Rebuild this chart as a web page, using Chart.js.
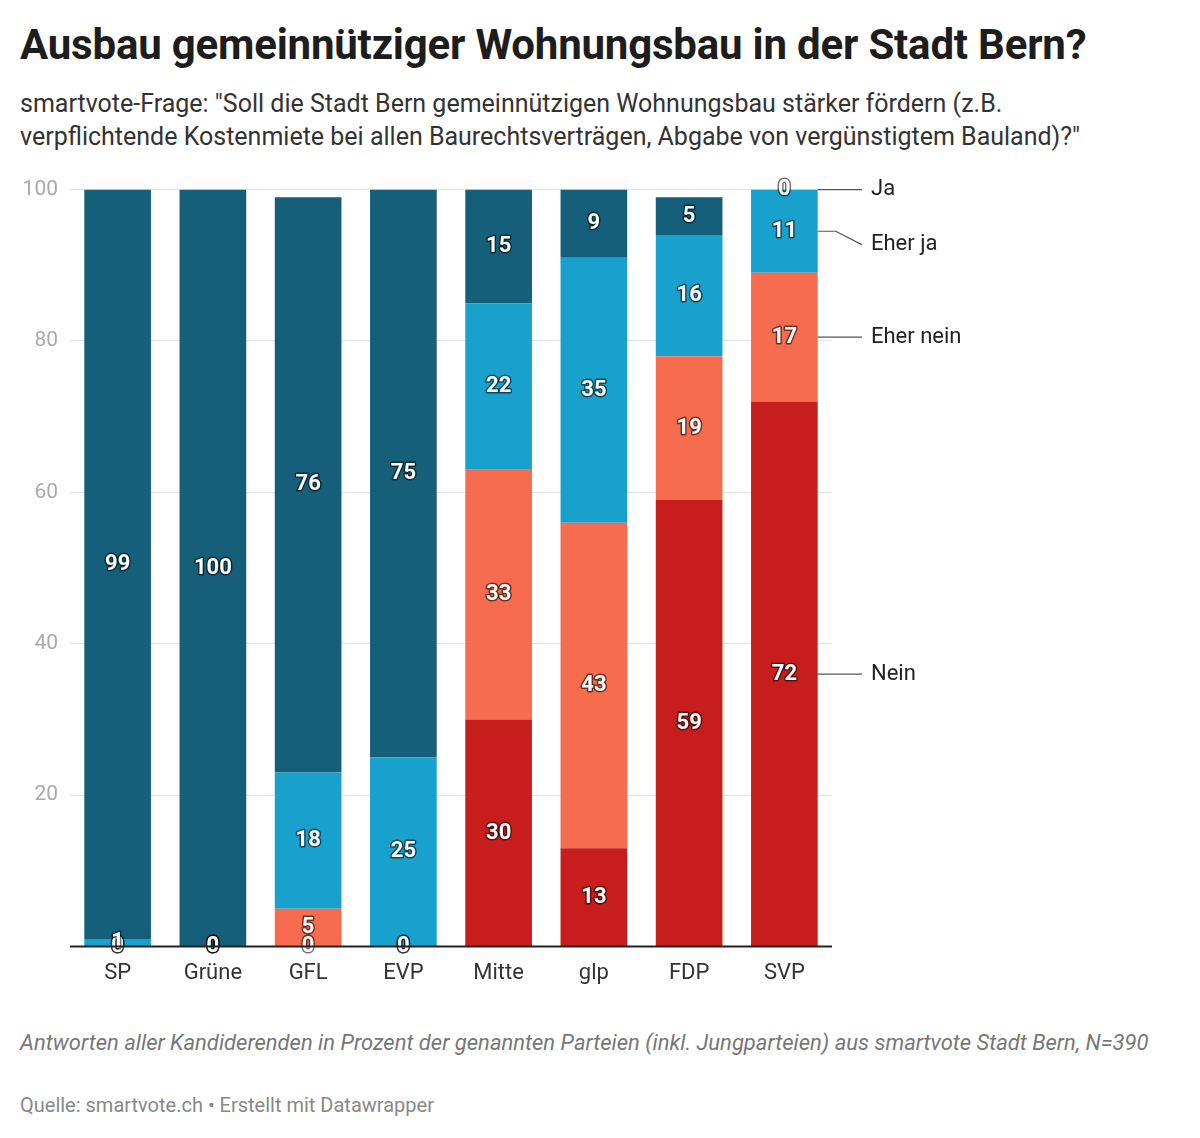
<!DOCTYPE html>
<html><head><meta charset="utf-8">
<script src="https://cdn.jsdelivr.net/npm/chart.js@4"></script>
<style>
body{margin:0;width:1200px;height:1138px;background:#fff;font-family:Roboto,sans-serif;position:relative;overflow:hidden}
#title{position:absolute;left:20px;top:20px;font-size:42px;font-weight:bold;color:#1d1d1d;letter-spacing:-0.2px}
#sub{position:absolute;left:20px;top:87px;font-size:25px;line-height:33px;color:#333;width:1140px}
#wrap{position:absolute;left:0;top:165px;width:1200px;height:830px}
#note{position:absolute;left:20px;top:1029px;font-size:22px;line-height:27px;color:#777;font-style:italic;width:1150px}
#src{position:absolute;left:20px;top:1093px;font-size:20px;color:#888}
</style></head><body>
<div id="title">Ausbau gemeinnütziger Wohnungsbau in der Stadt Bern?</div>
<div id="sub">smartvote-Frage: "Soll die Stadt Bern gemeinnützigen Wohnungsbau stärker fördern (z.B. verpflichtende Kostenmiete bei allen Baurechtsverträgen, Abgabe von vergünstigtem Bauland)?"</div>
<div id="wrap"><canvas id="c" width="1200" height="830"></canvas></div>
<div id="note">Antworten aller Kandiderenden in Prozent der genannten Parteien (inkl. Jungparteien) aus smartvote Stadt Bern, N=390</div>
<div id="src">Quelle: smartvote.ch • Erstellt mit Datawrapper</div>
<script>
const parties = ["SP", "Grüne", "GFL", "EVP", "Mitte", "glp", "FDP", "SVP"];
const nein = [0, 0, 0, 0, 30, 13, 59, 72];
const eherNein = [0, 0, 5, 0, 33, 43, 19, 17];
const eherJa = [1, 0, 18, 25, 22, 35, 16, 11];
const ja = [99, 100, 76, 75, 15, 9, 5, 0];
const seriesNames = ["Nein", "Eher nein", "Eher ja", "Ja"];
const colors = ["#c71e1d", "#f76c4f", "#18a1cd", "#155f7a"];
const yTicks = [20, 40, 60, 80, 100];

const valueLabels = {
  id: "valueLabels",
  afterDatasetsDraw(chart) {
    const c = chart.ctx;
    c.save();
    c.font = "bold 22px Roboto";
    c.textAlign = "center";
    c.textBaseline = "middle";
    c.lineJoin = "round";
    chart.data.datasets.forEach((ds, i) => {
      chart.getDatasetMeta(i).data.forEach((el, j) => {
        const v = ds.data[j];
        const y = v === 0 ? el.y : (el.y + el.base) / 2;
        c.lineWidth = 3;
        c.strokeStyle = "rgba(0,0,0,0.55)";
        c.strokeText(String(v), el.x, y);
        c.fillStyle = "#fff";
        c.fillText(String(v), el.x, y);
      });
    });
    const last = parties.length - 1;
    let prev = -1000;
    const labels = [];
    for (let i = chart.data.datasets.length - 1; i >= 0; i--) {
      const el = chart.getDatasetMeta(i).data[last];
      const mid = (el.y + el.base) / 2;
      const ly = Math.max(mid, prev + 55);
      prev = ly;
      labels.push([i, mid, ly, el.x + el.width / 2]);
    }
    c.font = "22px Roboto";
    c.textAlign = "left";
    c.strokeStyle = "#555";
    c.lineWidth = 1.2;
    labels.forEach(([i, mid, ly, x0]) => {
      c.beginPath();
      c.moveTo(x0, mid);
      c.lineTo(x0 + 18, mid);
      c.lineTo(x0 + 44, ly);
      c.lineTo(862, ly);
      c.stroke();
      c.fillStyle = "#222";
      c.fillText(seriesNames[i], 871, ly);
    });
    const a = chart.chartArea, ys = chart.scales.y.getPixelForValue(0);
    c.strokeStyle = "#222";
    c.lineWidth = 2;
    c.beginPath(); c.moveTo(a.left, ys); c.lineTo(a.right, ys); c.stroke();
    c.restore();
  }
};

new Chart(document.getElementById("c"), {
  type: "bar",
  data: {
    labels: parties,
    datasets: [nein, eherNein, eherJa, ja].map((d, i) => ({
      label: seriesNames[i], data: d, backgroundColor: colors[i],
      barPercentage: 1, categoryPercentage: 0.7
    }))
  },
  options: {
    responsive: false,
    animation: false,
    layout: { padding: { left: 20, right: 368, top: 16, bottom: 2 } },
    plugins: { legend: { display: false }, tooltip: { enabled: false } },
    scales: {
      x: {
        stacked: true,
        grid: { display: false },
        border: { display: false },
        ticks: { color: "#333", font: { size: 22, family: "Roboto" }, padding: 6 }
      },
      y: {
        stacked: true, min: 0, max: 100,
        afterFit: s => { s.width = 50; },
        afterBuildTicks: s => { s.ticks = yTicks.map(v => ({ value: v })); },
        border: { display: false },
        grid: { color: "#e3e3e3", drawTicks: false },
        ticks: { color: "#aaa", font: { size: 21, family: "Roboto" }, padding: 12 }
      }
    }
  },
  plugins: [valueLabels]
});
</script>
</body></html>
